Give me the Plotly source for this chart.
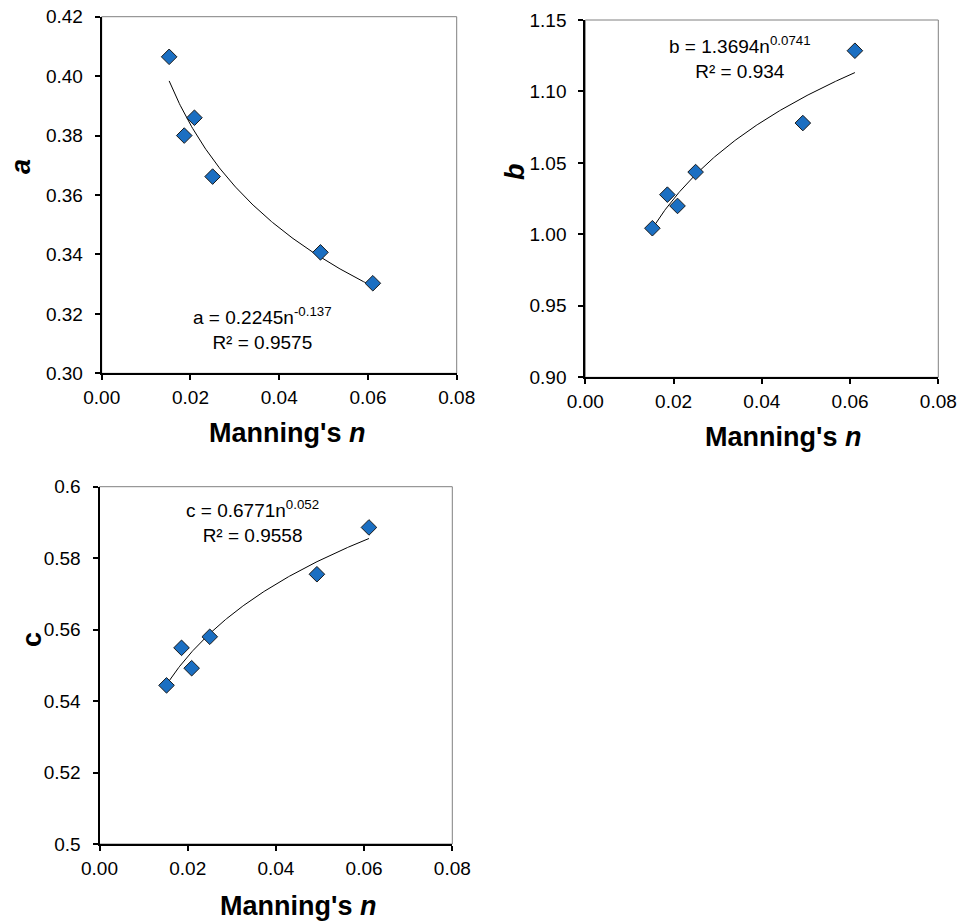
import numpy as np
import plotly.graph_objects as go

# ---- data ----
manning_n = [0.0152, 0.0186, 0.0209, 0.0250, 0.0493, 0.0611]
a_vals = [0.4065, 0.3800, 0.3860, 0.3662, 0.3407, 0.3303]
b_vals = [1.0043, 1.0278, 1.0199, 1.0436, 1.0779, 1.1285]
c_vals = [0.5444, 0.5549, 0.5492, 0.5580, 0.5755, 0.5886]

# fitted power-law trendlines (coefficients shown in the chart)
a_fit = (0.2245, -0.137)
b_fit = (1.3694, 0.0741)
c_fit = (0.6771, 0.052)

x_ticks = [0.00, 0.02, 0.04, 0.06, 0.08]
x_ticktext = ["0.00", "0.02", "0.04", "0.06", "0.08"]
a_ticks = [0.30, 0.32, 0.34, 0.36, 0.38, 0.40, 0.42]
a_ticktext = ["0.30", "0.32", "0.34", "0.36", "0.38", "0.40", "0.42"]
b_ticks = [0.90, 0.95, 1.00, 1.05, 1.10, 1.15]
b_ticktext = ["0.90", "0.95", "1.00", "1.05", "1.10", "1.15"]
c_ticks = [0.50, 0.52, 0.54, 0.56, 0.58, 0.60]
c_ticktext = ["0.5", "0.52", "0.54", "0.56", "0.58", "0.6"]

W, H = 960, 922
FONT = "Liberation Sans, Arial, sans-serif"


def px(x):
    return x / W


def py(y):
    return 1 - y / H


panels = [
    dict(vals=a_vals, fit=a_fit, yt=a_ticks, ytt=a_ticktext, yr=[0.30, 0.42],
         xd=[px(101.7), px(456.7)], yd=[py(373.3), py(16.7)]),
    dict(vals=b_vals, fit=b_fit, yt=b_ticks, ytt=b_ticktext, yr=[0.90, 1.15],
         xd=[px(585.3), px(938.3)], yd=[py(377.3), py(20.0)]),
    dict(vals=c_vals, fit=c_fit, yt=c_ticks, ytt=c_ticktext, yr=[0.50, 0.60],
         xd=[px(99.5), px(452.3)], yd=[py(844.0), py(486.7)]),
]

fig = go.Figure()
layout = dict(width=W, height=H, margin=dict(l=0, r=0, t=0, b=0, autoexpand=False),
              paper_bgcolor="white", plot_bgcolor="white", showlegend=False,
              font=dict(family=FONT, color="black"))
shapes = []

for i, p in enumerate(panels):
    k = "" if i == 0 else str(i + 1)
    xa, ya = "x" + k, "y" + k
    coef, expo = p["fit"]
    xs = np.linspace(min(manning_n), max(manning_n), 200)
    fig.add_trace(go.Scatter(x=xs, y=coef * xs ** expo, mode="lines",
                             line=dict(color="black", width=1),
                             xaxis=xa, yaxis=ya, hoverinfo="skip"))
    fig.add_trace(go.Scatter(x=manning_n, y=p["vals"], mode="markers",
                             marker=dict(symbol="diamond", size=12, color="#1B6FC2",
                                         line=dict(color="#1a1a1a", width=1)),
                             xaxis=xa, yaxis=ya))
    layout["xaxis" + k] = dict(domain=p["xd"], anchor=ya, range=[0, 0.08],
                               tickvals=x_ticks, ticktext=x_ticktext,
                               showgrid=False, zeroline=False, showline=True,
                               linecolor="black", linewidth=2, ticks="outside",
                               ticklen=5, tickwidth=2, tickcolor="black",
                               tickfont=dict(size=19, family=FONT, color="black"),
                               ticklabelstandoff=1, automargin=False)
    layout["yaxis" + k] = dict(domain=p["yd"], anchor=xa, range=p["yr"],
                               tickvals=p["yt"], ticktext=p["ytt"],
                               showgrid=False, zeroline=False, showline=True,
                               linecolor="black", linewidth=2, ticks="outside",
                               ticklen=5, tickwidth=2, tickcolor="black",
                               tickfont=dict(size=19, family=FONT, color="black"),
                               ticklabelstandoff=8, automargin=False)
    shapes.append(dict(type="rect", xref=xa + " domain", yref=ya + " domain",
                       x0=0, x1=1, y0=0, y1=1, layer="below",
                       line=dict(color="#808080", width=1)))

layout["shapes"] = shapes

ann = []
# x-axis titles
for cx, cy in [(287, 433), (783, 437), (298, 906)]:
    ann.append(dict(x=px(cx), y=py(cy), xref="paper", yref="paper",
                    text="<b>Manning's <i>n</i></b>", showarrow=False,
                    font=dict(size=27, family=FONT, color="black"),
                    xanchor="center", yanchor="middle"))
# y-axis titles
for cx, cy, t in [(21, 167, "<b><i>a</i></b>"), (515, 172, "<b><i>b</i></b>"),
                  (32, 640, "<b>c</b>")]:
    ann.append(dict(x=px(cx), y=py(cy), xref="paper", yref="paper", text=t,
                    showarrow=False, textangle=-90,
                    font=dict(size=27, family=FONT, color="black"),
                    xanchor="center", yanchor="middle"))
# equations
eqs = [
    (262, 328, "a = 0.2245n<sup>-0.137</sup><br>R² = 0.9575"),
    (740, 57, "b = 1.3694n<sup>0.0741</sup><br>R² = 0.934"),
    (252, 521, "c = 0.6771n<sup>0.052</sup><br>R² = 0.9558"),
]
for cx, cy, t in eqs:
    ann.append(dict(x=px(cx), y=py(cy), xref="paper", yref="paper", text=t,
                    showarrow=False, align="center",
                    font=dict(size=19, family=FONT, color="black"),
                    xanchor="center", yanchor="middle"))
layout["annotations"] = ann

fig.update_layout(**layout)
fig.write_html("out.html")
